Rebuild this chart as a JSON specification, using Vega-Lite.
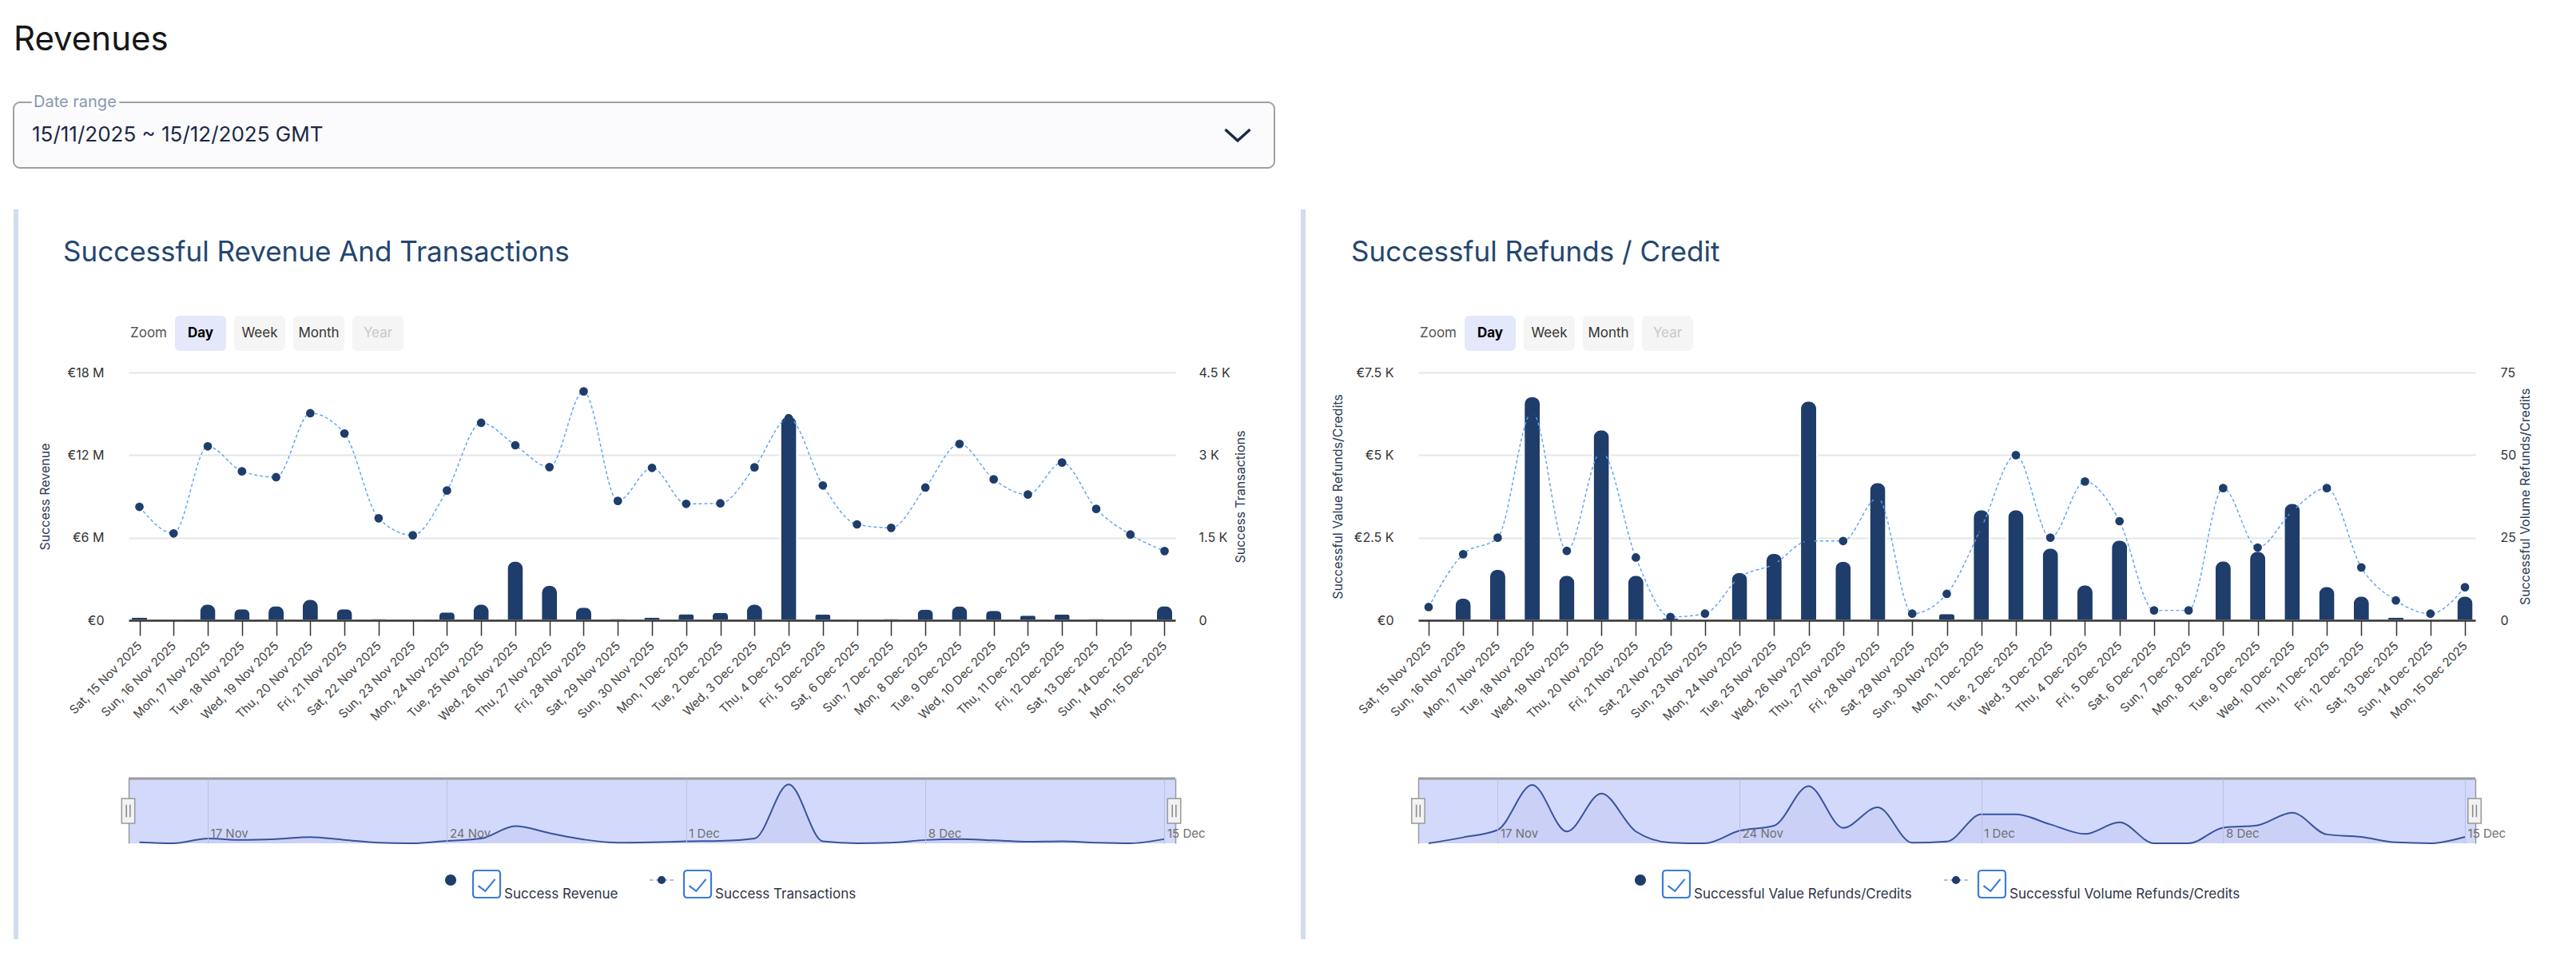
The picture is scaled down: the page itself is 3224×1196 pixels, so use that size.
{
  "$schema": "https://vega.github.io/schema/vega-lite/v6.json",
  "background": "#ffffff",
  "padding": {"left": 16, "top": 28, "right": 0, "bottom": 0},
  "config": {"font": "Inter", "view": {"stroke": null}},
  "datasets": {
    "days": [
      {"day":"Sat, 15 Nov 2025","rev":250000,"tx":2061,"rv":0,"rc":4},
      {"day":"Sun, 16 Nov 2025","rev":0,"tx":1578,"rv":686,"rc":20},
      {"day":"Mon, 17 Nov 2025","rev":1200000,"tx":3160,"rv":1557,"rc":25},
      {"day":"Tue, 18 Nov 2025","rev":850000,"tx":2705,"rv":6782,"rc":63},
      {"day":"Wed, 19 Nov 2025","rev":1080000,"tx":2599,"rv":1371,"rc":21},
      {"day":"Thu, 20 Nov 2025","rev":1550000,"tx":3760,"rv":5774,"rc":51},
      {"day":"Fri, 21 Nov 2025","rev":850000,"tx":3392,"rv":1371,"rc":19},
      {"day":"Sat, 22 Nov 2025","rev":150000,"tx":1853,"rv":80,"rc":1},
      {"day":"Sun, 23 Nov 2025","rev":0,"tx":1544,"rv":0,"rc":2},
      {"day":"Mon, 24 Nov 2025","rev":620000,"tx":2357,"rv":1460,"rc":13},
      {"day":"Tue, 25 Nov 2025","rev":1200000,"tx":3586,"rv":2040,"rc":17},
      {"day":"Wed, 26 Nov 2025","rev":4320000,"tx":3179,"rv":6645,"rc":24},
      {"day":"Thu, 27 Nov 2025","rev":2570000,"tx":2782,"rv":1798,"rc":24},
      {"day":"Fri, 28 Nov 2025","rev":970000,"tx":4157,"rv":4178,"rc":37},
      {"day":"Sat, 29 Nov 2025","rev":150000,"tx":2168,"rv":60,"rc":2},
      {"day":"Sun, 30 Nov 2025","rev":250000,"tx":2768,"rv":210,"rc":8},
      {"day":"Mon, 1 Dec 2025","rev":500000,"tx":2115,"rv":3355,"rc":28},
      {"day":"Tue, 2 Dec 2025","rev":600000,"tx":2124,"rv":3355,"rc":50},
      {"day":"Wed, 3 Dec 2025","rev":1200000,"tx":2778,"rv":2194,"rc":25},
      {"day":"Thu, 4 Dec 2025","rev":14860000,"tx":3670,"rv":1081,"rc":42},
      {"day":"Fri, 5 Dec 2025","rev":480000,"tx":2449,"rv":2436,"rc":30},
      {"day":"Sat, 6 Dec 2025","rev":0,"tx":1742,"rv":0,"rc":3},
      {"day":"Sun, 7 Dec 2025","rev":150000,"tx":1679,"rv":0,"rc":3},
      {"day":"Mon, 8 Dec 2025","rev":830000,"tx":2410,"rv":1806,"rc":40},
      {"day":"Tue, 9 Dec 2025","rev":1060000,"tx":3203,"rv":2097,"rc":22},
      {"day":"Wed, 10 Dec 2025","rev":740000,"tx":2560,"rv":3549,"rc":33},
      {"day":"Thu, 11 Dec 2025","rev":390000,"tx":2284,"rv":1032,"rc":40},
      {"day":"Fri, 12 Dec 2025","rev":480000,"tx":2865,"rv":742,"rc":16},
      {"day":"Sat, 13 Dec 2025","rev":150000,"tx":2023,"rv":105,"rc":6},
      {"day":"Sun, 14 Dec 2025","rev":0,"tx":1558,"rv":0,"rc":2},
      {"day":"Mon, 15 Dec 2025","rev":1080000,"tx":1258,"rv":742,"rc":10}
    ]
  },
  "spacing": 48,
  "vconcat": [
    {
      "width": 1578, "height": 82,
      "title": {"text": "Revenues", "anchor": "start", "fontSize": 42, "fontWeight": 400, "color": "#161616", "baseline": "alphabetic", "offset": 13},
      "view": {"fill": "#fbfbfd", "stroke": "#a0a0a0", "strokeWidth": 2, "cornerRadius": 8},
      "data": {"values": [{"t": "15/11/2025 ~ 15/12/2025 GMT", "lab": "Date range"}]},
      "layer": [
        {"mark": {"type": "text", "align": "left", "baseline": "middle", "fontSize": 26, "color": "#1b2845", "dx": 23},
         "encoding": {"x": {"datum": 0, "type": "quantitative", "scale": {"domain": [0, 1]}, "axis": null},
                      "y": {"datum": 0.5, "type": "quantitative", "scale": {"domain": [0, 1]}, "axis": null},
                      "text": {"field": "t"}}},
        {"mark": {"type": "text", "align": "left", "baseline": "middle", "fontSize": 20, "color": "#ffffff", "stroke": "#ffffff", "strokeWidth": 8, "dx": 25},
         "encoding": {"x": {"datum": 0, "type": "quantitative", "axis": null}, "y": {"datum": 1, "type": "quantitative", "axis": null}, "text": {"field": "lab"}}},
        {"mark": {"type": "text", "align": "left", "baseline": "middle", "fontSize": 20, "color": "#8796b3", "dx": 25},
         "encoding": {"x": {"datum": 0, "type": "quantitative", "axis": null}, "y": {"datum": 1, "type": "quantitative", "axis": null}, "text": {"field": "lab"}}},
        {"mark": {"type": "point", "shape": "M-1,-0.45L0,0.45L1,-0.45", "size": 961, "filled": false, "stroke": "#1b2845", "strokeWidth": 3.5, "opacity": 1, "xOffset": -46},
         "encoding": {"x": {"datum": 1, "type": "quantitative", "axis": null}, "y": {"datum": 0.5, "type": "quantitative", "axis": null}}}
      ]
    },
    {
      "columns": 4,
      "bounds": "flush",
      "spacing": {"row": 27, "column": 138},
      "concat": [
        {"width": 6, "height": 44, "data": {"values": [{"a": "a"}]}, "mark": {"type": "rule", "color": "#d3dcee", "strokeWidth": 6, "yOffset": -133}, "encoding": {"x": {"field": "a", "type": "nominal", "scale": {"type": "point", "align": 0.5}, "axis": null}}},
        {
          "width": 328, "height": 44,
          "title": {"text": "Successful Revenue And Transactions", "anchor": "start", "fontSize": 35, "fontWeight": 400, "color": "#23466f", "dx": -82, "baseline": "alphabetic", "offset": 33},
          "data": {"values": [{"b": "Zoom"}, {"b": "Day"}, {"b": "Week"}, {"b": "Month"}, {"b": "Year"}]},
          "encoding": {"x": {"field": "b", "type": "nominal", "sort": null, "scale": {"type": "point", "padding": 0.216, "domain": ["Zoom", "Day", "Week", "Month", "Year"]}, "axis": null}},
          "layer": [
            {"transform": [{"filter": "datum.b !== 'Zoom'"}], "mark": {"type": "bar", "width": 64, "cornerRadius": 6},
             "encoding": {"color": {"condition": {"test": "datum.b === 'Day'", "value": "#e4e8fb"}, "value": "#f5f5f5"}}},
            {"transform": [{"filter": "datum.b === 'Day'"}], "mark": {"type": "text", "fontSize": 17, "fontWeight": "bold", "color": "#000000"}, "encoding": {"text": {"field": "b"}}},
            {"transform": [{"filter": "datum.b === 'Week' || datum.b === 'Month'"}], "mark": {"type": "text", "fontSize": 17, "color": "#333333"}, "encoding": {"text": {"field": "b"}}},
            {"transform": [{"filter": "datum.b === 'Year'"}], "mark": {"type": "text", "fontSize": 17, "color": "#c8c8c8"}, "encoding": {"text": {"field": "b"}}},
            {"transform": [{"filter": "datum.b === 'Zoom'"}], "mark": {"type": "text", "fontSize": 17, "align": "right", "xOffset": 32, "color": "#555555"}, "encoding": {"text": {"field": "b"}}}
          ]
        },
        {"width": 28, "height": 44, "data": {"values": [{"a": "a"}]}, "mark": {"type": "rule", "color": "#d3dcee", "strokeWidth": 6, "yOffset": -133}, "encoding": {"x": {"field": "a", "type": "nominal", "scale": {"type": "point", "align": 0.786}, "axis": null}}},
        {
          "width": 328, "height": 44,
          "title": {"text": "Successful Refunds / Credit", "anchor": "start", "fontSize": 35, "fontWeight": 400, "color": "#23466f", "dx": -84, "baseline": "alphabetic", "offset": 33},
          "data": {"values": [{"b": "Zoom"}, {"b": "Day"}, {"b": "Week"}, {"b": "Month"}, {"b": "Year"}]},
          "encoding": {"x": {"field": "b", "type": "nominal", "sort": null, "scale": {"type": "point", "padding": 0.216, "domain": ["Zoom", "Day", "Week", "Month", "Year"]}, "axis": null}},
          "layer": [
            {"transform": [{"filter": "datum.b !== 'Zoom'"}], "mark": {"type": "bar", "width": 64, "cornerRadius": 6},
             "encoding": {"color": {"condition": {"test": "datum.b === 'Day'", "value": "#e4e8fb"}, "value": "#f5f5f5"}}},
            {"transform": [{"filter": "datum.b === 'Day'"}], "mark": {"type": "text", "fontSize": 17, "fontWeight": "bold", "color": "#000000"}, "encoding": {"text": {"field": "b"}}},
            {"transform": [{"filter": "datum.b === 'Week' || datum.b === 'Month'"}], "mark": {"type": "text", "fontSize": 17, "color": "#333333"}, "encoding": {"text": {"field": "b"}}},
            {"transform": [{"filter": "datum.b === 'Year'"}], "mark": {"type": "text", "fontSize": 17, "color": "#c8c8c8"}, "encoding": {"text": {"field": "b"}}},
            {"transform": [{"filter": "datum.b === 'Zoom'"}], "mark": {"type": "text", "fontSize": 17, "align": "right", "xOffset": 32, "color": "#555555"}, "encoding": {"text": {"field": "b"}}}
          ]
        },

        {"width": 6, "height": 310, "data": {"values": [{"a": "a"}]}, "mark": {"type": "rule", "color": "#d3dcee", "strokeWidth": 6, "yOffset": -28}, "encoding": {"x": {"field": "a", "type": "nominal", "scale": {"type": "point", "align": 0.5}, "axis": null}}},
        {
          "width": 1310, "height": 310,
          "data": {"name": "days"},
          "encoding": {"x": {"field": "day", "type": "ordinal", "sort": null, "scale": {"type": "point", "padding": 0.3157},
            "axis": {"title": null, "labelAngle": -45, "labelAlign": "right", "labelBaseline": "middle", "labelFontSize": 15, "labelColor": "#444444", "labelPadding": 10, "labelOverlap": false, "tickSize": 19, "tickColor": "#333333", "tickWidth": 1.5, "domainColor": "#333333", "domainWidth": 2.5, "grid": false, "zindex": 1}}},
          "layer": [
            {"mark": {"type": "bar", "width": 21, "color": "#1f3d6b", "stroke": "#ffffff", "strokeWidth": 2, "cornerRadiusTopLeft": 10, "cornerRadiusTopRight": 10},
             "encoding": {"y": {"field": "rev", "type": "quantitative", "scale": {"domain": [0, 18000000], "nice": false},
               "axis": {"title": "Success Revenue", "values": [0, 6000000, 12000000, 18000000], "labelExpr": "datum.value == 0 ? '€0' : '€' + (datum.value/1000000) + ' M'", "labelFontSize": 16, "labelColor": "#333333", "labelPadding": 31, "domain": false, "ticks": false, "grid": true, "gridColor": "#e6e6e6", "gridWidth": 2, "titleFontSize": 16, "titleFontWeight": "normal", "titleColor": "#2e3b55", "titlePadding": 19}}}},
            {"encoding": {"y": {"field": "tx", "type": "quantitative", "scale": {"domain": [0, 4500], "nice": false},
               "axis": {"orient": "right", "title": "Success Transactions", "values": [0, 1500, 3000, 4500], "labelExpr": "datum.value == 0 ? '0' : (datum.value/1000) + ' K'", "labelFontSize": 16, "labelColor": "#333333", "labelPadding": 29, "domain": false, "ticks": false, "grid": false, "titleFontSize": 16, "titleFontWeight": "normal", "titleColor": "#2e3b55", "titleAngle": -90, "titleBaseline": "top", "titlePadding": 5}}},
             "layer": [
               {"mark": {"type": "line", "interpolate": "monotone", "strokeDash": [4, 3], "strokeWidth": 1.4, "color": "#5aa2f4"}},
               {"mark": {"type": "point", "filled": true, "size": 115, "opacity": 1, "color": "#1f3d6b"}}
             ]}
          ],
          "resolve": {"scale": {"y": "independent"}}
        },
        {"width": 28, "height": 310, "data": {"values": [{"a": "a"}]}, "mark": {"type": "rule", "color": "#d3dcee", "strokeWidth": 6, "yOffset": -28}, "encoding": {"x": {"field": "a", "type": "nominal", "scale": {"type": "point", "align": 0.786}, "axis": null}}},
        {
          "width": 1323, "height": 310,
          "data": {"name": "days"},
          "encoding": {"x": {"field": "day", "type": "ordinal", "sort": null, "scale": {"type": "point", "padding": 0.3},
            "axis": {"title": null, "labelAngle": -45, "labelAlign": "right", "labelBaseline": "middle", "labelFontSize": 15, "labelColor": "#444444", "labelPadding": 10, "labelOverlap": false, "tickSize": 19, "tickColor": "#333333", "tickWidth": 1.5, "domainColor": "#333333", "domainWidth": 2.5, "grid": false, "zindex": 1}}},
          "layer": [
            {"mark": {"type": "bar", "width": 21, "color": "#1f3d6b", "stroke": "#ffffff", "strokeWidth": 2, "cornerRadiusTopLeft": 10, "cornerRadiusTopRight": 10},
             "encoding": {"y": {"field": "rv", "type": "quantitative", "scale": {"domain": [0, 7500], "nice": false},
               "axis": {"title": "Successful Value Refunds/Credits", "values": [0, 2500, 5000, 7500], "labelExpr": "datum.value == 0 ? '€0' : '€' + (datum.value/1000) + ' K'", "labelFontSize": 16, "labelColor": "#333333", "labelPadding": 31, "domain": false, "ticks": false, "grid": true, "gridColor": "#e6e6e6", "gridWidth": 2, "titleFontSize": 16, "titleFontWeight": "normal", "titleColor": "#2e3b55", "titlePadding": 12}}}},
            {"encoding": {"y": {"field": "rc", "type": "quantitative", "scale": {"domain": [0, 75], "nice": false},
               "axis": {"orient": "right", "title": "Successful Volume Refunds/Credits", "values": [0, 25, 50, 75], "labelFontSize": 16, "labelColor": "#333333", "labelPadding": 31, "domain": false, "ticks": false, "grid": false, "titleFontSize": 16, "titleFontWeight": "normal", "titleColor": "#2e3b55", "titleAngle": -90, "titleBaseline": "top", "titlePadding": 4}}},
             "layer": [
               {"mark": {"type": "line", "interpolate": "monotone", "strokeDash": [4, 3], "strokeWidth": 1.4, "color": "#5aa2f4"}},
               {"mark": {"type": "point", "filled": true, "size": 115, "opacity": 1, "color": "#1f3d6b"}}
             ]}
          ],
          "resolve": {"scale": {"y": "independent"}}
        },

        {"width": 6, "height": 144, "data": {"values": [{"a": "a"}]}, "mark": {"type": "rule", "color": "#d3dcee", "strokeWidth": 6, "yOffset": -28}, "encoding": {"x": {"field": "a", "type": "nominal", "scale": {"type": "point", "align": 0.5}, "axis": null}}},
        {"width": 1310, "height": 144, "data": {"values": [{}]}, "mark": {"type": "point", "opacity": 0}},
        {"width": 28, "height": 144, "data": {"values": [{"a": "a"}]}, "mark": {"type": "rule", "color": "#d3dcee", "strokeWidth": 6, "yOffset": -28}, "encoding": {"x": {"field": "a", "type": "nominal", "scale": {"type": "point", "align": 0.786}, "axis": null}}},
        {"width": 1323, "height": 144, "data": {"values": [{}]}, "mark": {"type": "point", "opacity": 0}},

        {"width": 6, "height": 81, "data": {"values": [{"a": "a"}]}, "mark": {"type": "rule", "color": "#d3dcee", "strokeWidth": 6, "yOffset": -28}, "encoding": {"x": {"field": "a", "type": "nominal", "scale": {"type": "point", "align": 0.5}, "axis": null}}},
        {
          "width": 1310, "height": 81,
          "data": {"name": "days"},
          "view": {"fill": "#d3d9fb"},
          "layer": [
            {"mark": {"type": "area", "interpolate": "monotone", "color": "#c7cdf3", "line": {"color": "#37539e", "strokeWidth": 2}},
             "encoding": {
               "x": {"field": "day", "type": "ordinal", "sort": null, "scale": {"type": "point", "padding": 0.3157},
                 "axis": {"title": null, "values": ["Mon, 17 Nov 2025", "Mon, 24 Nov 2025", "Mon, 1 Dec 2025", "Mon, 8 Dec 2025", "Mon, 15 Dec 2025"], "labelExpr": "slice(datum.label, 5, -5)", "grid": true, "gridColor": "#b9c0ec", "gridWidth": 1, "ticks": false, "tickSize": 0, "domain": false, "labelAngle": 0, "labelAlign": "left", "labelBaseline": "alphabetic", "labelPadding": -8, "labelOffset": 3, "labelFontSize": 15, "labelColor": "#707070", "zindex": 1}},
               "y": {"field": "rev", "type": "quantitative", "scale": {"domain": [0, 16300000], "nice": false},
                 "axis": {"orient": "left", "title": null, "labels": false, "ticks": false, "grid": false, "domain": true, "domainColor": "#9a9a9a", "domainWidth": 1.5}}}},
            {"data": {"values": [{}]}, "mark": {"type": "rule", "color": "#9a9a9a", "strokeWidth": 3},
             "encoding": {"y": {"datum": 16300000, "type": "quantitative",
               "axis": {"orient": "right", "title": null, "labels": false, "ticks": false, "grid": false, "domain": true, "domainColor": "#9a9a9a", "domainWidth": 1.5}}}},
            {"transform": [{"filter": "datum.day === 'Sat, 15 Nov 2025'"}],
             "mark": {"type": "point", "shape": "M-0.53,-1L0.53,-1L0.53,1L-0.53,1Z", "size": 961, "filled": true, "fill": "#f2f2f2", "stroke": "#999999", "strokeWidth": 1.5, "opacity": 1, "xOffset": -14},
             "encoding": {"x": {"field": "day", "type": "ordinal", "sort": null}, "y": {"datum": 8150000, "type": "quantitative", "axis": null}}},
            {"transform": [{"filter": "datum.day === 'Sat, 15 Nov 2025'"}],
             "mark": {"type": "point", "shape": "M-0.15,-0.5L-0.15,0.5M0.15,-0.5L0.15,0.5", "size": 961, "filled": false, "stroke": "#888888", "strokeWidth": 1.5, "opacity": 1, "xOffset": -14},
             "encoding": {"x": {"field": "day", "type": "ordinal", "sort": null}, "y": {"datum": 8150000, "type": "quantitative", "axis": null}}},
            {"transform": [{"filter": "datum.day === 'Mon, 15 Dec 2025'"}],
             "mark": {"type": "point", "shape": "M-0.53,-1L0.53,-1L0.53,1L-0.53,1Z", "size": 961, "filled": true, "fill": "#f2f2f2", "stroke": "#999999", "strokeWidth": 1.5, "opacity": 1, "xOffset": 12},
             "encoding": {"x": {"field": "day", "type": "ordinal", "sort": null}, "y": {"datum": 8150000, "type": "quantitative", "axis": null}}},
            {"transform": [{"filter": "datum.day === 'Mon, 15 Dec 2025'"}],
             "mark": {"type": "point", "shape": "M-0.15,-0.5L-0.15,0.5M0.15,-0.5L0.15,0.5", "size": 961, "filled": false, "stroke": "#888888", "strokeWidth": 1.5, "opacity": 1, "xOffset": 12},
             "encoding": {"x": {"field": "day", "type": "ordinal", "sort": null}, "y": {"datum": 8150000, "type": "quantitative", "axis": null}}}
          ],
          "resolve": {"axis": {"y": "independent"}}
        },
        {"width": 28, "height": 81, "data": {"values": [{"a": "a"}]}, "mark": {"type": "rule", "color": "#d3dcee", "strokeWidth": 6, "yOffset": -28}, "encoding": {"x": {"field": "a", "type": "nominal", "scale": {"type": "point", "align": 0.786}, "axis": null}}},
        {
          "width": 1323, "height": 81,
          "data": {"name": "days"},
          "view": {"fill": "#d3d9fb"},
          "layer": [
            {"mark": {"type": "area", "interpolate": "monotone", "color": "#c7cdf3", "line": {"color": "#37539e", "strokeWidth": 2}},
             "encoding": {
               "x": {"field": "day", "type": "ordinal", "sort": null, "scale": {"type": "point", "padding": 0.3},
                 "axis": {"title": null, "values": ["Mon, 17 Nov 2025", "Mon, 24 Nov 2025", "Mon, 1 Dec 2025", "Mon, 8 Dec 2025", "Mon, 15 Dec 2025"], "labelExpr": "slice(datum.label, 5, -5)", "grid": true, "gridColor": "#b9c0ec", "gridWidth": 1, "ticks": false, "tickSize": 0, "domain": false, "labelAngle": 0, "labelAlign": "left", "labelBaseline": "alphabetic", "labelPadding": -8, "labelOffset": 3, "labelFontSize": 15, "labelColor": "#707070", "zindex": 1}},
               "y": {"field": "rv", "type": "quantitative", "scale": {"domain": [0, 7520], "nice": false},
                 "axis": {"orient": "left", "title": null, "labels": false, "ticks": false, "grid": false, "domain": true, "domainColor": "#9a9a9a", "domainWidth": 1.5}}}},
            {"data": {"values": [{}]}, "mark": {"type": "rule", "color": "#9a9a9a", "strokeWidth": 3},
             "encoding": {"y": {"datum": 7520, "type": "quantitative",
               "axis": {"orient": "right", "title": null, "labels": false, "ticks": false, "grid": false, "domain": true, "domainColor": "#9a9a9a", "domainWidth": 1.5}}}},
            {"transform": [{"filter": "datum.day === 'Sat, 15 Nov 2025'"}],
             "mark": {"type": "point", "shape": "M-0.53,-1L0.53,-1L0.53,1L-0.53,1Z", "size": 961, "filled": true, "fill": "#f2f2f2", "stroke": "#999999", "strokeWidth": 1.5, "opacity": 1, "xOffset": -13},
             "encoding": {"x": {"field": "day", "type": "ordinal", "sort": null}, "y": {"datum": 3760, "type": "quantitative", "axis": null}}},
            {"transform": [{"filter": "datum.day === 'Sat, 15 Nov 2025'"}],
             "mark": {"type": "point", "shape": "M-0.15,-0.5L-0.15,0.5M0.15,-0.5L0.15,0.5", "size": 961, "filled": false, "stroke": "#888888", "strokeWidth": 1.5, "opacity": 1, "xOffset": -13},
             "encoding": {"x": {"field": "day", "type": "ordinal", "sort": null}, "y": {"datum": 3760, "type": "quantitative", "axis": null}}},
            {"transform": [{"filter": "datum.day === 'Mon, 15 Dec 2025'"}],
             "mark": {"type": "point", "shape": "M-0.53,-1L0.53,-1L0.53,1L-0.53,1Z", "size": 961, "filled": true, "fill": "#f2f2f2", "stroke": "#999999", "strokeWidth": 1.5, "opacity": 1, "xOffset": 12},
             "encoding": {"x": {"field": "day", "type": "ordinal", "sort": null}, "y": {"datum": 3760, "type": "quantitative", "axis": null}}},
            {"transform": [{"filter": "datum.day === 'Mon, 15 Dec 2025'"}],
             "mark": {"type": "point", "shape": "M-0.15,-0.5L-0.15,0.5M0.15,-0.5L0.15,0.5", "size": 961, "filled": false, "stroke": "#888888", "strokeWidth": 1.5, "opacity": 1, "xOffset": 12},
             "encoding": {"x": {"field": "day", "type": "ordinal", "sort": null}, "y": {"datum": 3760, "type": "quantitative", "axis": null}}}
          ],
          "resolve": {"axis": {"y": "independent"}}
        },

        {"width": 6, "height": 93, "data": {"values": [{"a": "a"}]}, "mark": {"type": "rule", "color": "#d3dcee", "strokeWidth": 6, "yOffset": -28}, "encoding": {"x": {"field": "a", "type": "nominal", "scale": {"type": "point", "align": 0.5}, "axis": null}}},
        {
          "width": 792, "height": 93,
          "data": {"values": [{"s": "Success Revenue", "k": "bar"}, {"s": "Success Transactions", "k": "line"}]},
          "encoding": {"x": {"field": "s", "type": "nominal", "sort": null, "scale": {"type": "point", "padding": 1, "align": 0.7633, "domain": ["Success Revenue", "Success Transactions"]}, "axis": null}},
          "layer": [
            {"transform": [{"filter": "datum.k === 'bar'"}], "mark": {"type": "point", "filled": true, "size": 200, "color": "#1f3d6b", "opacity": 1, "yOffset": -27.5}},
            {"transform": [{"filter": "datum.k === 'line'"}], "mark": {"type": "point", "shape": "M-2.7,0L-1.9,0M-1.3,0L-0.5,0M0.5,0L1.3,0M1.9,0L2.7,0", "size": 121, "filled": false, "stroke": "#9fc2f2", "strokeWidth": 2, "opacity": 1, "yOffset": -27.5}},
            {"transform": [{"filter": "datum.k === 'line'"}], "mark": {"type": "point", "filled": true, "size": 104, "color": "#1f3d6b", "opacity": 1, "yOffset": -27.5}},
            {"mark": {"type": "point", "shape": "M-0.75,-1L0.75,-1Q1,-1 1,-0.75L1,0.75Q1,1 0.75,1L-0.75,1Q-1,1 -1,0.75L-1,-0.75Q-1,-1 -0.75,-1Z", "size": 1156, "filled": true, "fill": "#ffffff", "stroke": "#3b7dd8", "strokeWidth": 2.2, "opacity": 1, "xOffset": 45, "yOffset": -22.5}},
            {"mark": {"type": "point", "shape": "M-0.62,0.13L-0.1,0.52L0.62,-0.36", "size": 1156, "filled": false, "stroke": "#3b7dd8", "strokeWidth": 2.2, "opacity": 1, "xOffset": 45, "yOffset": -22.5}},
            {"mark": {"type": "text", "align": "left", "baseline": "alphabetic", "fontSize": 17, "color": "#2d3447", "xOffset": 67, "dy": -4.5}, "encoding": {"text": {"field": "s"}}}
          ]
        },
        {"width": 28, "height": 93, "data": {"values": [{"a": "a"}]}, "mark": {"type": "rule", "color": "#d3dcee", "strokeWidth": 6, "yOffset": -28}, "encoding": {"x": {"field": "a", "type": "nominal", "scale": {"type": "point", "align": 0.786}, "axis": null}}},
        {
          "width": 1185, "height": 93,
          "data": {"values": [{"s": "Successful Value Refunds/Credits", "k": "bar"}, {"s": "Successful Volume Refunds/Credits", "k": "line"}]},
          "encoding": {"x": {"field": "s", "type": "nominal", "sort": null, "scale": {"type": "point", "padding": 1, "align": 0.3519, "domain": ["Successful Value Refunds/Credits", "Successful Volume Refunds/Credits"]}, "axis": null}},
          "layer": [
            {"transform": [{"filter": "datum.k === 'bar'"}], "mark": {"type": "point", "filled": true, "size": 200, "color": "#1f3d6b", "opacity": 1, "yOffset": -27.5}},
            {"transform": [{"filter": "datum.k === 'line'"}], "mark": {"type": "point", "shape": "M-2.7,0L-1.9,0M-1.3,0L-0.5,0M0.5,0L1.3,0M1.9,0L2.7,0", "size": 121, "filled": false, "stroke": "#9fc2f2", "strokeWidth": 2, "opacity": 1, "yOffset": -27.5}},
            {"transform": [{"filter": "datum.k === 'line'"}], "mark": {"type": "point", "filled": true, "size": 104, "color": "#1f3d6b", "opacity": 1, "yOffset": -27.5}},
            {"mark": {"type": "point", "shape": "M-0.75,-1L0.75,-1Q1,-1 1,-0.75L1,0.75Q1,1 0.75,1L-0.75,1Q-1,1 -1,0.75L-1,-0.75Q-1,-1 -0.75,-1Z", "size": 1156, "filled": true, "fill": "#ffffff", "stroke": "#3b7dd8", "strokeWidth": 2.2, "opacity": 1, "xOffset": 45, "yOffset": -22.5}},
            {"mark": {"type": "point", "shape": "M-0.62,0.13L-0.1,0.52L0.62,-0.36", "size": 1156, "filled": false, "stroke": "#3b7dd8", "strokeWidth": 2.2, "opacity": 1, "xOffset": 45, "yOffset": -22.5}},
            {"mark": {"type": "text", "align": "left", "baseline": "alphabetic", "fontSize": 17, "color": "#2d3447", "xOffset": 67, "dy": -4.5}, "encoding": {"text": {"field": "s"}}}
          ]
        }
      ]
    }
  ]
}
